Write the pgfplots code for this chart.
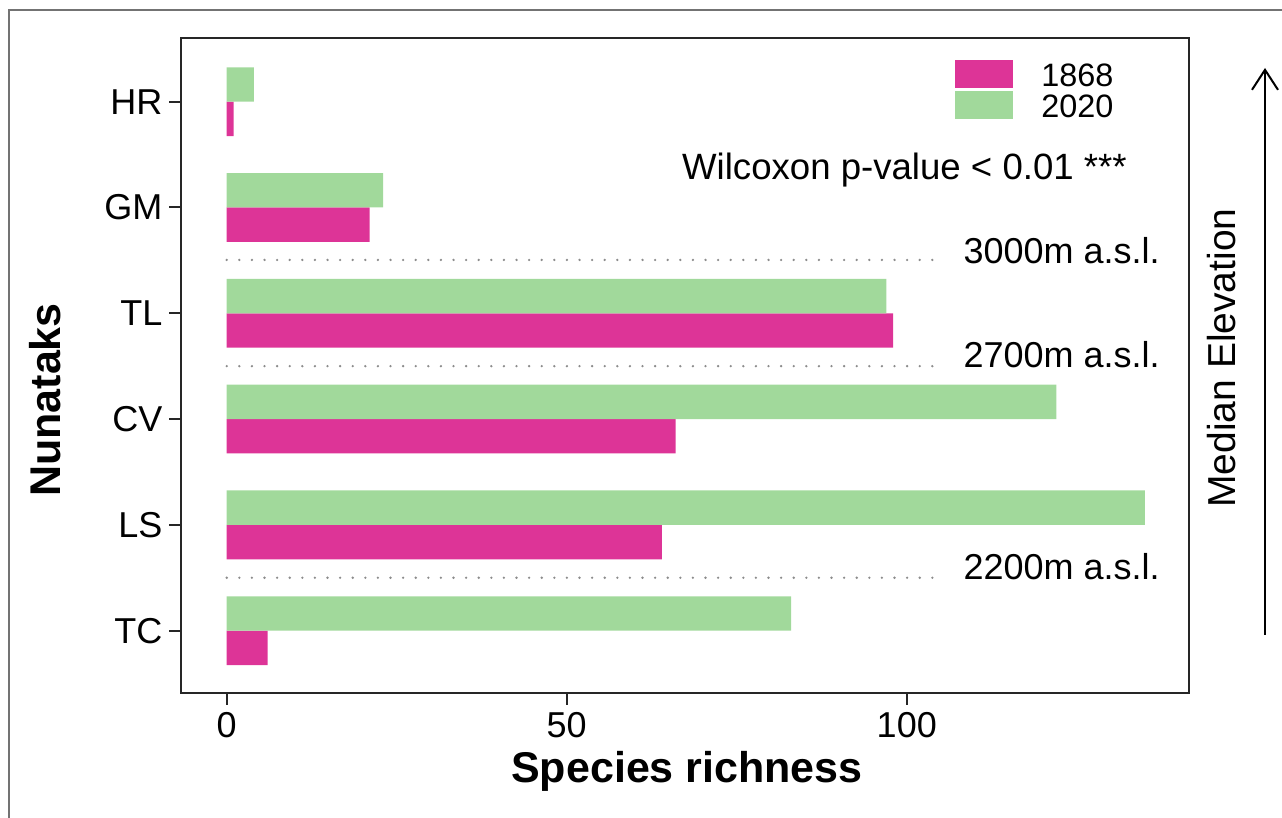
\documentclass[border=0pt]{standalone}
\usepackage{fontspec}
\setmainfont{Liberation Sans}
\usepackage{pgfplots}
\pgfplotsset{compat=1.18}
\usetikzlibrary{arrows.meta}
\definecolor{pinkbar}{HTML}{DD3497}
\definecolor{greenbar}{HTML}{A1D99B}
\begin{document}
\begin{tikzpicture}
\useasboundingbox (0,0) rectangle (641pt,409pt);
% outer frame remnants
\draw[color=black!55, line width=1pt] (4.7pt,0pt) -- (4.7pt,403.75pt) -- (641pt,403.75pt);
\begin{axis}[
  at={(90.75pt,62.5pt)}, anchor=south west,
  scale only axis, width=503.75pt, height=327.25pt,
  xmin=-6.65, xmax=141.5, ymin=-0.589, ymax=5.597,
  xbar, bar width=0.325,
  axis line style={line width=1pt, color=black!85},
  tick align=outside, major tick length=6pt,
  tick style={line width=1pt, color=black!85},
  xtick={0,50,100}, xtick pos=lower, ytick pos=left,
  ytick={0,1,2,3,4,5}, yticklabels={TC,LS,CV,TL,GM,HR},
  ticklabel style={font=\fontsize{18}{20}\selectfont},
  /pgf/number format/assume math mode=true,
  legend style={at={(0.7677,0.9671)}, anchor=north west, draw=none, fill=none,
    inner sep=0pt, column sep=14pt, row sep=1.5pt,
    font=\fontsize{16.2}{16}\selectfont,
    nodes={inner sep=0pt, text height=11.5pt, text depth=0pt}},
  legend image code/.code={\fill[#1] (0pt,-6.5pt) rectangle (29pt,7.5pt);},
  legend cell align=left,
]
\addplot[fill=pinkbar, draw=none, bar shift=-0.1625] coordinates {
 (6,0) (64,1) (66,2) (98,3) (21,4) (1,5)};
\addlegendentry{1868}
\addplot[fill=greenbar, draw=none, bar shift=0.1625] coordinates {
 (83,0) (135,1) (122,2) (97,3) (23,4) (4,5)};
\addlegendentry{2020}
\addplot[forget plot, color=black!45, line width=1.3pt, line cap=round, dash pattern=on 0pt off 6.3pt, sharp plot] coordinates {(0,3.504) (105,3.504)};
\addplot[forget plot, color=black!45, line width=1.3pt, line cap=round, dash pattern=on 0pt off 6.3pt, sharp plot] coordinates {(0,2.5) (105,2.5)};
\addplot[forget plot, color=black!45, line width=1.3pt, line cap=round, dash pattern=on 0pt off 6.3pt, sharp plot] coordinates {(0,0.5) (105,0.5)};
\node[anchor=base west, inner sep=0pt, font=\fontsize{18}{20}\selectfont] at (axis cs:108.3,3.473) {3000m a.s.l.};
\node[anchor=base west, inner sep=0pt, font=\fontsize{18}{20}\selectfont] at (axis cs:108.3,2.483) {2700m a.s.l.};
\node[anchor=base west, inner sep=0pt, font=\fontsize{18}{20}\selectfont] at (axis cs:108.3,0.479) {2200m a.s.l.};
\node[anchor=base east, inner sep=0pt, font=\fontsize{18.3}{20}\selectfont] at (axis cs:132.4,4.267) {Wilcoxon p-value < 0.01 ***};
\end{axis}
\node[anchor=base, inner sep=0pt, font=\fontsize{21.5}{24}\selectfont\bfseries] at (343.5pt,17.5pt) {Species richness};
\node[rotate=90, anchor=center, inner sep=0pt, font=\fontsize{19.5}{22}\selectfont] at (611pt,230pt) {Median Elevation};
\node[rotate=90, anchor=center, inner sep=0pt, font=\fontsize{21.5}{24}\selectfont\bfseries] at (22.5pt,209pt) {Nunataks};
\draw[line width=1pt, -{Straight Barb[length=10pt,width=13pt,line width=1pt]}] (632.5pt,91.5pt) -- (632.5pt,375pt);
\end{tikzpicture}
\end{document}
